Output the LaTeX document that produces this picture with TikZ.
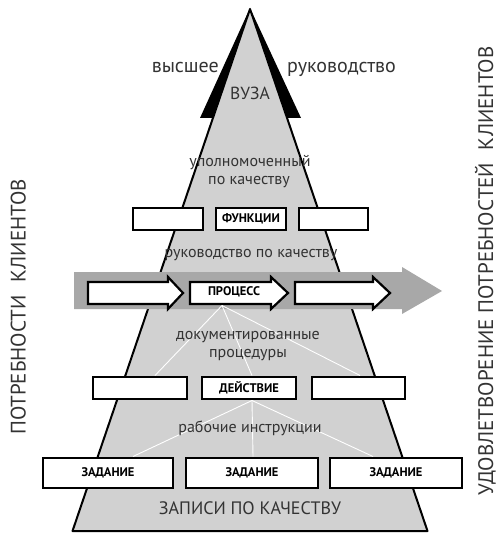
\documentclass[tikz,border=0pt]{standalone}
\usepackage{fontspec}
\setmainfont{PT Sans}
\usetikzlibrary{calc}
\begin{document}
\begin{tikzpicture}[x=1pt,y=-1pt,
  box/.style={draw=black, fill=white, line width=2.4pt, inner sep=0pt, font=\bfseries\fontsize{12.5}{13}\selectfont},
  lbl/.style={text=txt, inner sep=0pt, font=\fontsize{16}{17}\selectfont},
  biglbl/.style={text=txt, inner sep=0pt, font=\fontsize{20}{21}\selectfont},
  side/.style={text=txt, inner sep=0pt, rotate=90, anchor=south, font=\fontsize{21}{22}\selectfont},
  wline/.style={draw=white, line width=0.9pt},
  arrowshape/.style={draw=black, fill=white, line width=2.2pt, line join=miter}]
\definecolor{pyr}{gray}{0.82}
\definecolor{bandc}{gray}{0.66}
\definecolor{txt}{gray}{0.2}
\useasboundingbox (0,0) rectangle (500,534);
% black wedge
\fill[black] (250,8) -- (200,118) -- (301,118) -- cycle;
% pyramid
\draw[line width=2pt, fill=pyr, line join=round] (250,9) -- (72.5,531) -- (427.5,531) -- cycle;
% band arrow
\fill[bandc] (74,272) -- (402,272) -- (402,267) -- (442,291) -- (402,314) -- (402,309) -- (74,309) -- cycle;
% white arrows
\draw[arrowshape] (88,282) -- (168,282) -- (168,277) -- (183,293) -- (168,309) -- (168,304) -- (88,304) -- cycle;
\draw[arrowshape] (190,282) -- (271,282) -- (271,277) -- (288,293) -- (271,309) -- (271,304) -- (190,304) -- cycle;
\draw[arrowshape] (295,282) -- (373,282) -- (373,277) -- (390,293) -- (373,309) -- (373,304) -- (295,304) -- cycle;
\node[inner sep=0pt, font=\bfseries\fontsize{12.5}{13}\selectfont] (proc) at (234,292) {ПРОЦЕСС};
% boxes row 1
\node[box, minimum width=70, minimum height=22] (f1) at (168,219) {};
\node[box, minimum width=70, minimum height=22] (f2) at (251,219) {ФУНКЦИИ};
\node[box, minimum width=69, minimum height=22] (f3) at (333.5,219) {};
% boxes row 2
\node[box, minimum width=94, minimum height=22] (d1) at (140,388) {};
\node[box, minimum width=94, minimum height=22] (d2) at (249,388) {ДЕЙСТВИЕ};
\node[box, minimum width=93, minimum height=22] (d3) at (358.5,388) {};
% boxes row 3
\node[box, minimum width=130, minimum height=30] (z1) at (108,473) {ЗАДАНИЕ};
\node[box, minimum width=132, minimum height=30] (z2) at (252,473) {ЗАДАНИЕ};
\node[box, minimum width=132, minimum height=30] (z3) at (396,473) {ЗАДАНИЕ};
% connector coordinates
\coordinate (pc) at (222,305.5);
\coordinate (d1t) at (155,375.5);
\coordinate (d2t) at (252,375.5);
\coordinate (d3t) at (360,375.5);
\coordinate (dc) at (252,400.5);
\coordinate (z1t) at (133,456.5);
\coordinate (z2t) at (253,456.5);
\coordinate (z3t) at (373,456.5);
\draw[wline] (pc) -- (d1t);
\draw[wline] (pc) -- (d2t);
\draw[wline] (pc) -- (d3t);
\draw[wline] (dc) -- (z1t);
\draw[wline] (dc) -- (z2t);
\draw[wline] (dc) -- (z3t);
% labels
\node[biglbl, anchor=base east] (vys) at (219,73) {высшее};
\node[biglbl, anchor=base west] (ruk) at (287,73) {руководство};
\node[lbl, anchor=base, font=\fontsize{17.5}{18}\selectfont] (vuz) at (250,100) {ВУЗА};
\node[lbl, anchor=base] (upl) at (250,167) {уполномоченный};
\node[lbl, anchor=base] (pok) at (249,185) {по качеству};
\node[lbl, anchor=base] (rpk) at (251,257) {руководство по качеству};
\node[lbl, anchor=base] (dok) at (248,339) {документированные};
\node[lbl, anchor=base] (prc) at (248,357) {процедуры};
\node[lbl, anchor=base] (rab) at (250,432) {рабочие инструкции};
\node[lbl, anchor=base, font=\fontsize{18}{19}\selectfont] (zap) at (250,514) {ЗАПИСИ ПО КАЧЕСТВУ};
% side texts
\node[side] (left) at (26,307) {ПОТРЕБНОСТИ\hspace{0.6em}КЛИЕНТОВ};
\node[side] (right) at (496,271) {УДОВЛЕТВОРЕНИЕ ПОТРЕБНОСТЕЙ\hspace{0.6em}КЛИЕНТОВ};
\end{tikzpicture}
\end{document}
